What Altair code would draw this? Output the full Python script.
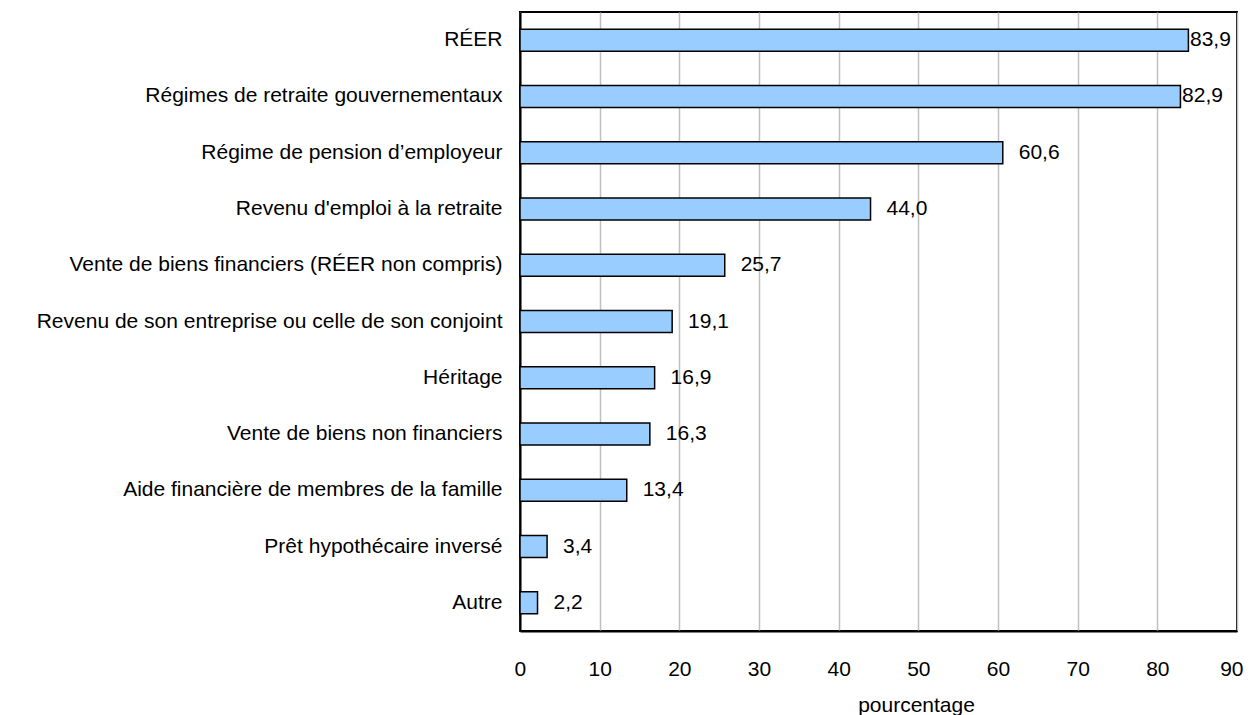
import altair as alt
import pandas as pd

categories = [
    "RÉER",
    "Régimes de retraite gouvernementaux",
    "Régime de pension d’employeur",
    "Revenu d'emploi à la retraite",
    "Vente de biens financiers (RÉER non compris)",
    "Revenu de son entreprise ou celle de  son conjoint",
    "Héritage",
    "Vente de biens non financiers",
    "Aide financière de membres de la famille",
    "Prêt hypothécaire inversé",
    "Autre",
]
values = [83.9, 82.9, 60.6, 44.0, 25.7, 19.1, 16.9, 16.3, 13.4, 3.4, 2.2]
x_ticks = [0, 10, 20, 30, 40, 50, 60, 70, 80, 90]

df = pd.DataFrame({"cat": categories, "v": values})

FONT = "Liberation Sans"
FS = 21

y_enc = alt.Y("cat:N", sort=categories, title=None,
              axis=alt.Axis(labelFont=FONT, labelFontSize=FS, labelColor="black",
                            labelPadding=18, ticks=False, domain=True,
                            domainColor="black", domainWidth=2, labelLimit=1000))

base = alt.Chart(df)

bars = base.mark_bar(size=22, color="#99CCFF", stroke="black", strokeWidth=1.5).encode(
    x=alt.X("v:Q", scale=alt.Scale(domain=[0, 90], nice=False, zero=True),
            title="pourcentage",
            axis=alt.Axis(values=x_ticks, labelFont=FONT, labelFontSize=FS, labelColor="black",
                          labelPadding=27, labelFlush=True, labelFlushOffset=6,
                          ticks=False, domain=True, domainColor="black",
                          domainWidth=2, grid=True, gridColor="#c0c0c0", gridWidth=1.5,
                          titleFont=FONT, titleFontSize=FS, titleFontWeight="normal",
                          titleColor="black", titleX=396, titleY=80,
                          titleBaseline="alphabetic", titleAlign="center")),
    y=y_enc,
)

labels = base.transform_calculate(
    lx="datum.v > 80 ? datum.v + 0.2 : datum.v + 2",
    lab="replace(format(datum.v, '.1f'), '.', ',')",
).mark_text(align="left", baseline="middle", font=FONT, fontSize=FS, color="black").encode(
    x="lx:Q",
    y=alt.Y("cat:N", sort=categories),
    text="lab:N",
)

chart = (bars + labels).properties(
    width=717, height=619,
    background="white",
    autosize=alt.AutoSizeParams(type="none"),
    padding={"left": 512, "top": 4, "right": 7, "bottom": 86},
).configure_view(stroke="black", strokeWidth=2)

chart.save("out.html", embed_options={"renderer": "svg", "actions": False})
